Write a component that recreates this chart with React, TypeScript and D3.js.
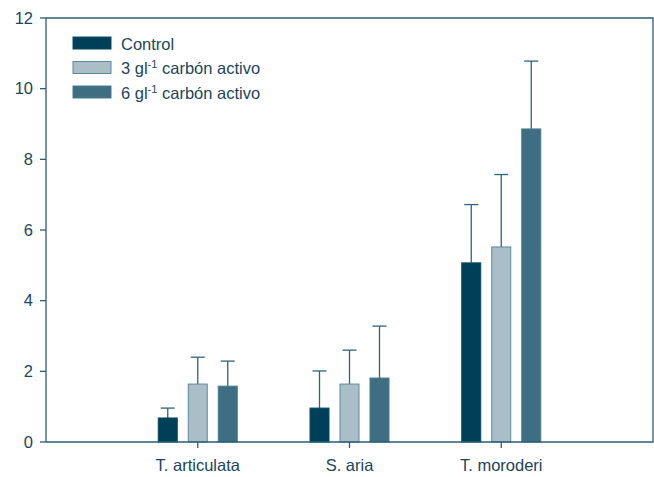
import React from "react";
import * as d3 from "d3";

const categories = ["T. articulata", "S. aria", "T. moroderi"];
const seriesNames = ["Control", "3 gl", "6 gl"];
const control = [0.68, 0.96, 5.07];
const controlErr = [0.28, 1.05, 1.65];
const carbon3 = [1.64, 1.64, 5.52];
const carbon3Err = [0.76, 0.96, 2.05];
const carbon6 = [1.58, 1.81, 8.86];
const carbon6Err = [0.71, 1.47, 1.92];
const yTicks = [0, 2, 4, 6, 8, 10, 12];

const fills = ["#003f58", "#a9bec6", "#3e6e81"];
const strokes = ["#0a4a62", "#5f889a", "#4b7a8c"];
const axisColor = "#2b5f75";
const textColor = "#1d4559";

export default function App() {
  const width = 654, height = 477;
  const left = 46, top = 18, right = 653, bottom = 442;

  const x = d3.scaleLinear().domain([0, 4]).range([left, right]);
  const y = d3.scaleLinear().domain([0, 12]).range([bottom, top]);

  const series = [
    { vals: control, errs: controlErr },
    { vals: carbon3, errs: carbon3Err },
    { vals: carbon6, errs: carbon6Err },
  ];
  const barW = 19, gap = 30;
  const fs = 16.5;

  return (
    <svg width={width} height={height} style={{ position: "absolute", left: 0, top: 0, fontFamily: "'Liberation Sans', Arial, sans-serif" }}>
      {/* bars and error bars */}
      {series.map((s, si) =>
        categories.map((c, ci) => {
          const cx = x(ci + 1) + (si - 1) * gap;
          const v = s.vals[ci];
          const e = v + s.errs[ci];
          return (
            <g key={si + "-" + ci}>
              <line x1={cx} x2={cx} y1={y(v)} y2={y(e)} stroke="#2f6378" strokeWidth={1.3} />
              <line x1={cx - 7} x2={cx + 7} y1={y(e)} y2={y(e)} stroke="#2f6378" strokeWidth={1.3} />
              <rect x={cx - barW / 2} y={y(v)} width={barW} height={y(0) - y(v)} fill={fills[si]} stroke={strokes[si]} strokeWidth={1} />
            </g>
          );
        })
      )}

      {/* frame */}
      <path d={`M${left},${bottom}V${top}H${right}V${bottom}H${left}`} fill="none" stroke={axisColor} strokeWidth={1.3} />

      {/* y ticks */}
      {yTicks.map((t) => (
        <g key={t}>
          <line x1={left - 6} x2={left} y1={y(t)} y2={y(t)} stroke={axisColor} strokeWidth={1.3} />
          <text x={33} y={y(t) + 5.5} textAnchor="end" fontSize={fs} fill={textColor}>{t}</text>
        </g>
      ))}

      {/* x ticks */}
      {categories.map((c, ci) => (
        <g key={c}>
          <line x1={x(ci + 1)} x2={x(ci + 1)} y1={bottom} y2={bottom + 6} stroke={axisColor} strokeWidth={1.3} />
          <text x={x(ci + 1)} y={bottom + 29} textAnchor="middle" fontSize={fs} fill={textColor}>{c}</text>
        </g>
      ))}

      {/* legend */}
      {seriesNames.map((n, i) => (
        <g key={n} transform={`translate(73,${37 + i * 24.5})`}>
          <rect x={0} y={0} width={38} height={12} fill={fills[i]} stroke={strokes[i]} strokeWidth={1} />
          <text x={48} y={12.5} fontSize={fs} fill={textColor}>
            {i === 0 ? n : (
              <>
                {n}
                <tspan fontSize={11} dy={-6}>-1</tspan>
                <tspan fontSize={fs} dy={6}> carbón activo</tspan>
              </>
            )}
          </text>
        </g>
      ))}
    </svg>
  );
}
